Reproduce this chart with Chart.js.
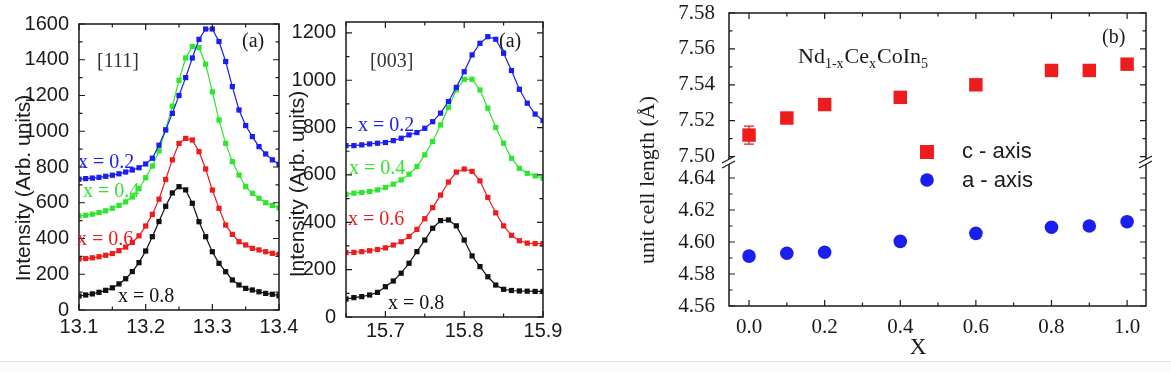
<!DOCTYPE html>
<html lang="en">
<head>
<meta charset="UTF-8">
<title>Nd1-xCexCoIn5 - peaks and unit cell length</title>
<script src="https://cdn.jsdelivr.net/npm/chart.js"></script>
<style>
  html, body { margin: 0; padding: 0; background: #fff; }
  .wrap { position: relative; width: 1171px; height: 372px; overflow: hidden; }
  .wrap canvas { position: absolute; left: 0; top: 0; }
  .foot { position: absolute; left: 0; top: 361px; width: 1171px; height: 11px; background: #fafafa; border-top: 1px solid #e6e6e6; }
</style>
</head>
<body>
<div class="wrap">
  <div class="foot"></div>
  <canvas id="c111" width="1171" height="372"></canvas>
  <canvas id="c003" width="1171" height="372"></canvas>
  <canvas id="cLat" width="1171" height="372"></canvas>
</div>
<script>
// ---- panel (a), [111] peak ----
const x111 = [13.10, 13.11, 13.12, 13.13, 13.14, 13.15, 13.16, 13.17, 13.18, 13.19, 13.20,
              13.21, 13.22, 13.23, 13.24, 13.25, 13.26, 13.27, 13.28, 13.29, 13.30,
              13.31, 13.32, 13.33, 13.34, 13.35, 13.36, 13.37, 13.38, 13.39, 13.40];
const i111_02 = [732, 735, 738, 742, 748, 754, 762, 772, 783, 796, 817, 849, 922, 1007, 1100, 1200,
                 1300, 1410, 1514, 1572, 1572, 1502, 1390, 1250, 1119, 1032, 970, 914, 873, 840, 815];
const i111_04 = [526, 530, 536, 545, 555, 569, 585, 605, 632, 680, 740, 805, 890, 1010, 1140, 1285,
                 1410, 1474, 1468, 1375, 1220, 1063, 932, 830, 755, 690, 653, 625, 600, 585, 572];
const i111_06 = [285, 288, 292, 298, 306, 316, 332, 352, 378, 415, 470, 535, 620, 730, 840, 932,
                 960, 951, 886, 789, 671, 569, 475, 423, 382, 364, 345, 336, 326, 317, 311];
const i111_08 = [78, 84, 90, 99, 110, 124, 146, 175, 215, 265, 330, 410, 495, 580, 655, 690,
                 672, 597, 494, 410, 326, 261, 214, 168, 140, 121, 112, 102, 93, 88, 80];
const ticks111X = [13.1, 13.2, 13.3, 13.4];
const ticks111Y = [0, 200, 400, 600, 800, 1000, 1200, 1400, 1600];

// ---- panel (a), [003] peak ----
const x003 = [15.65, 15.66, 15.67, 15.68, 15.69, 15.70, 15.71, 15.72, 15.73, 15.74, 15.75, 15.76, 15.77,
              15.78, 15.79, 15.80, 15.81, 15.82, 15.83, 15.84, 15.85, 15.86, 15.87, 15.88, 15.89, 15.90];
const i003_02 = [724, 724, 727, 731, 734, 737, 745, 755, 769, 779, 797, 825, 861,
                 910, 970, 1036, 1107, 1156, 1184, 1173, 1114, 1041, 962, 903, 857, 830];
const i003_04 = [518, 523, 526, 530, 537, 547, 561, 579, 603, 635, 685, 741, 811,
                 885, 960, 1004, 1004, 959, 882, 800, 734, 670, 628, 607, 596, 586];
const i003_06 = [272, 273, 276, 280, 285, 292, 304, 318, 340, 370, 415, 462, 515,
                 570, 612, 625, 615, 575, 505, 440, 385, 345, 322, 312, 310, 310];
const i003_08 = [76, 82, 86, 93, 104, 128, 152, 185, 227, 276, 325, 375, 407,
                 410, 385, 325, 258, 213, 170, 135, 117, 112, 110, 109, 108, 108];
const ticks003X = [15.7, 15.8, 15.9];
const ticks003Y = [0, 200, 400, 600, 800, 1000, 1200];

// ---- panel (b), lattice constants ----
const xLat = [0.0, 0.1, 0.2, 0.4, 0.6, 0.8, 0.9, 1.0];
const cAxis = [7.512, 7.5215, 7.529, 7.533, 7.540, 7.548, 7.548, 7.5515];
const cErr = [0.005, 0, 0, 0, 0, 0, 0, 0];
const aAxis = [4.5912, 4.593, 4.5936, 4.6004, 4.6054, 4.6092, 4.610, 4.6127];
const ticksLatX = [0.0, 0.2, 0.4, 0.6, 0.8, 1.0];
const ticksC = [7.50, 7.52, 7.54, 7.56, 7.58];
const ticksA = [4.56, 4.58, 4.60, 4.62, 4.64];

const SANS = '"Liberation Sans", Arial, sans-serif';
const SERIF = '"Liberation Serif", "Times New Roman", serif';
const INK = '#1a1a1a';
const BLUE = '#1a1ff0', GREEN = '#2ee62e', RED = '#ee1c1c', BLACK = '#111111';

// helpers for the hand-drawn parts (frame, inward ticks, labels)
function frame(ctx, a) {
  ctx.save();
  ctx.strokeStyle = INK;
  ctx.lineWidth = 1.5;
  ctx.strokeRect(a.left, a.top, a.right - a.left, a.bottom - a.top);
  ctx.restore();
}

function isMajor(v, major) {
  const r = v / major;
  return Math.abs(r - Math.round(r)) < 1e-6;
}

function ticksX(ctx, a, sc, from, to, step, major) {
  const n = Math.round((to - from) / step);
  ctx.save();
  ctx.strokeStyle = INK;
  ctx.lineWidth = 1.2;
  ctx.beginPath();
  for (let i = 0; i <= n; i++) {
    const v = from + i * step;
    const len = isMajor(v, major) ? 6 : 3.5;
    const p = sc.getPixelForValue(v);
    ctx.moveTo(p, a.bottom); ctx.lineTo(p, a.bottom - len);
    ctx.moveTo(p, a.top); ctx.lineTo(p, a.top + len);
  }
  ctx.stroke();
  ctx.restore();
}

function ticksY(ctx, a, sc, from, to, step, major) {
  const n = Math.round((to - from) / step);
  ctx.save();
  ctx.strokeStyle = INK;
  ctx.lineWidth = 1.2;
  ctx.beginPath();
  for (let i = 0; i <= n; i++) {
    const v = from + i * step;
    const len = isMajor(v, major) ? 6 : 3.5;
    const p = sc.getPixelForValue(v);
    ctx.moveTo(a.left, p); ctx.lineTo(a.left + len, p);
    ctx.moveTo(a.right, p); ctx.lineTo(a.right - len, p);
  }
  ctx.stroke();
  ctx.restore();
}

function text(ctx, s, x, y, font, color, align) {
  ctx.save();
  ctx.font = font;
  ctx.fillStyle = color;
  ctx.textAlign = align || 'left';
  ctx.textBaseline = 'alphabetic';
  ctx.fillText(s, x, y);
  ctx.restore();
}

function vtext(ctx, s, cx, cy, font, color) {
  ctx.save();
  ctx.translate(cx, cy);
  ctx.rotate(-Math.PI / 2);
  ctx.font = font;
  ctx.fillStyle = color;
  ctx.textAlign = 'center';
  ctx.textBaseline = 'middle';
  ctx.fillText(s, 0, 0);
  ctx.restore();
}

function breakMark(ctx, x, y) {
  ctx.save();
  ctx.fillStyle = '#fff';
  ctx.beginPath();
  ctx.moveTo(x - 7, y + 1); ctx.lineTo(x + 6, y - 6);
  ctx.lineTo(x + 6, y - 1); ctx.lineTo(x - 7, y + 6);
  ctx.closePath();
  ctx.fill();
  ctx.strokeStyle = INK;
  ctx.lineWidth = 1.3;
  ctx.beginPath();
  ctx.moveTo(x - 7, y + 1); ctx.lineTo(x + 6, y - 6);
  ctx.moveTo(x - 7, y + 6); ctx.lineTo(x + 6, y - 1);
  ctx.stroke();
  ctx.restore();
}

function peakSet(label, xs, ys, color) {
  return {
    label: label,
    data: xs.map((x, i) => ({ x: x, y: ys[i] })),
    borderColor: color,
    backgroundColor: color,
    borderWidth: 1.2,
    pointStyle: 'rect',
    pointRadius: 3.7,
    pointBorderWidth: 0,
    tension: 0
  };
}

function fixedTicks(list) {
  return function (scale) { scale.ticks = list.map(v => ({ value: v })); };
}

const tickFontSans = { family: SANS, size: 20 };
const tickFontSerif = { family: SERIF, size: 21 };

// ---- [111] ----
new Chart(document.getElementById('c111'), {
  type: 'line',
  data: {
    datasets: [
      peakSet('x = 0.2', x111, i111_02, BLUE),
      peakSet('x = 0.4', x111, i111_04, GREEN),
      peakSet('x = 0.6', x111, i111_06, RED),
      peakSet('x = 0.8', x111, i111_08, BLACK)
    ]
  },
  options: {
    responsive: false,
    animation: false,
    devicePixelRatio: 1,
    layout: { padding: { left: 0, right: 892, top: 24, bottom: 0 } },
    plugins: { legend: { display: false }, tooltip: { enabled: false } },
    scales: {
      x: {
        type: 'linear', min: 13.1, max: 13.4,
        grid: { display: false }, border: { display: false },
        afterBuildTicks: fixedTicks(ticks111X),
        afterFit: s => { s.height = 62; s.paddingLeft = 0; s.paddingRight = 0; },
        ticks: { font: tickFontSans, color: INK, padding: -3, maxRotation: 0, autoSkip: false,
                 callback: v => v.toFixed(1) }
      },
      y: {
        type: 'linear', min: 0, max: 1600,
        grid: { display: false }, border: { display: false },
        afterBuildTicks: fixedTicks(ticks111Y),
        afterFit: s => { s.width = 79; s.paddingTop = 0; s.paddingBottom = 0; },
        ticks: { font: tickFontSans, color: INK, padding: 2, autoSkip: false,
                 callback: v => String(v) }
      }
    }
  },
  plugins: [{
    id: 'deco111',
    afterDraw(chart) {
      const { ctx, chartArea: a, scales } = chart;
      frame(ctx, a);
      ticksX(ctx, a, scales.x, 13.1, 13.4, 0.05, 0.1);
      ticksY(ctx, a, scales.y, 0, 1600, 100, 200);
      text(ctx, '[111]', 97, 67, '20px ' + SERIF, '#333');
      text(ctx, '(a)', 242, 47, '20px ' + SERIF, INK);
      text(ctx, 'x = 0.2', 78, 168, '20px ' + SERIF, BLUE);
      text(ctx, 'x = 0.4', 83, 197, '20px ' + SERIF, GREEN);
      text(ctx, 'x = 0.6', 77, 245, '20px ' + SERIF, RED);
      text(ctx, 'x = 0.8', 118, 302, '20px ' + SERIF, BLACK);
      vtext(ctx, 'Intensity (Arb. units)', 24, 188, '21px ' + SANS, INK);
    }
  }]
});

// ---- [003] ----
new Chart(document.getElementById('c003'), {
  type: 'line',
  data: {
    datasets: [
      peakSet('x = 0.2', x003, i003_02, BLUE),
      peakSet('x = 0.4', x003, i003_04, GREEN),
      peakSet('x = 0.6', x003, i003_06, RED),
      peakSet('x = 0.8', x003, i003_08, BLACK)
    ]
  },
  options: {
    responsive: false,
    animation: false,
    devicePixelRatio: 1,
    layout: { padding: { left: 290, right: 628, top: 22, bottom: 0 } },
    plugins: { legend: { display: false }, tooltip: { enabled: false } },
    scales: {
      x: {
        type: 'linear', min: 15.65, max: 15.9,
        grid: { display: false }, border: { display: false },
        afterBuildTicks: fixedTicks(ticks003X),
        afterFit: s => { s.height = 55; s.paddingLeft = 0; s.paddingRight = 0; },
        ticks: { font: tickFontSans, color: INK, padding: -6, maxRotation: 0, autoSkip: false,
                 callback: v => v.toFixed(1) }
      },
      y: {
        type: 'linear', min: 0, max: 1246,
        grid: { display: false }, border: { display: false },
        afterBuildTicks: fixedTicks(ticks003Y),
        afterFit: s => { s.width = 56; s.paddingTop = 0; s.paddingBottom = 0; },
        ticks: { font: tickFontSans, color: INK, padding: 2, autoSkip: false,
                 callback: v => String(v) }
      }
    }
  },
  plugins: [{
    id: 'deco003',
    afterDraw(chart) {
      const { ctx, chartArea: a, scales } = chart;
      frame(ctx, a);
      ticksX(ctx, a, scales.x, 15.65, 15.9, 0.05, 0.1);
      ticksY(ctx, a, scales.y, 0, 1200, 100, 200);
      text(ctx, '[003]', 370, 67, '20px ' + SERIF, '#333');
      text(ctx, '(a)', 499, 47, '20px ' + SERIF, INK);
      text(ctx, 'x = 0.2', 358, 131, '20px ' + SERIF, BLUE);
      text(ctx, 'x = 0.4', 349, 174, '20px ' + SERIF, GREEN);
      text(ctx, 'x = 0.6', 348, 225, '20px ' + SERIF, RED);
      text(ctx, 'x = 0.8', 388, 309, '20px ' + SERIF, BLACK);
      vtext(ctx, 'Intensity (Arb. units)', 298, 184, '21px ' + SANS, INK);
    }
  }]
});

// ---- lattice constants, broken y axis made of two stacked scales ----
new Chart(document.getElementById('cLat'), {
  type: 'scatter',
  data: {
    datasets: [
      {
        label: 'c - axis', yAxisID: 'yC',
        data: xLat.map((x, i) => ({ x: x, y: cAxis[i] })),
        pointStyle: 'rect', pointRadius: 9.5, pointBorderWidth: 0,
        backgroundColor: RED, borderColor: RED
      },
      {
        label: 'a - axis', yAxisID: 'yA',
        data: xLat.map((x, i) => ({ x: x, y: aAxis[i] })),
        pointStyle: 'circle', pointRadius: 6.8, pointBorderWidth: 0,
        backgroundColor: BLUE, borderColor: BLUE
      }
    ]
  },
  options: {
    responsive: false,
    animation: false,
    devicePixelRatio: 1,
    layout: { padding: { left: 560, right: 25, top: 13, bottom: 0 } },
    plugins: { legend: { display: false }, tooltip: { enabled: false } },
    scales: {
      x: {
        type: 'linear', min: -0.053, max: 1.05,
        grid: { display: false }, border: { display: false },
        afterBuildTicks: fixedTicks(ticksLatX),
        afterFit: s => { s.height = 66; s.paddingLeft = 0; s.paddingRight = 0; },
        ticks: { font: tickFontSerif, color: INK, padding: 1, maxRotation: 0, autoSkip: false,
                 callback: v => v.toFixed(1) }
      },
      yA: {
        type: 'linear', position: 'left', stack: 'len', stackWeight: 144,
        min: 4.56, max: 4.65,
        grid: { display: false }, border: { display: false },
        afterBuildTicks: fixedTicks(ticksA),
        afterFit: s => { s.width = 169; s.paddingTop = 0; s.paddingBottom = 0; },
        ticks: { font: tickFontSerif, color: INK, padding: 6, autoSkip: false,
                 callback: v => v.toFixed(2) }
      },
      yC: {
        type: 'linear', position: 'left', stack: 'len', stackWeight: 149,
        min: 7.497, max: 7.58,
        grid: { display: false }, border: { display: false },
        afterBuildTicks: fixedTicks(ticksC),
        afterFit: s => { s.width = 169; s.paddingTop = 0; s.paddingBottom = 0; },
        ticks: { font: tickFontSerif, color: INK, padding: 6, autoSkip: false,
                 callback: v => v.toFixed(2) }
      }
    }
  },
  plugins: [{
    id: 'decoLat',
    beforeDatasetsDraw(chart) {
      const { ctx, scales } = chart;
      ctx.save();
      ctx.strokeStyle = RED;
      ctx.lineWidth = 1.3;
      ctx.beginPath();
      xLat.forEach((x, i) => {
        if (!cErr[i]) return;
        const px = scales.x.getPixelForValue(x);
        const top = scales.yC.getPixelForValue(cAxis[i] + cErr[i]);
        const bot = scales.yC.getPixelForValue(cAxis[i] - cErr[i]);
        ctx.moveTo(px, top); ctx.lineTo(px, bot);
        ctx.moveTo(px - 5, top); ctx.lineTo(px + 5, top);
        ctx.moveTo(px - 5, bot); ctx.lineTo(px + 5, bot);
      });
      ctx.stroke();
      ctx.restore();
    },
    afterDraw(chart) {
      const { ctx, chartArea: a, scales } = chart;
      frame(ctx, a);
      ticksX(ctx, a, scales.x, 0, 1.0, 0.1, 0.2);
      ticksY(ctx, a, scales.yC, 7.50, 7.58, 0.01, 0.02);
      ticksY(ctx, a, scales.yA, 4.56, 4.64, 0.01, 0.02);
      const yb = scales.yC.bottom;
      breakMark(ctx, a.left, yb);
      breakMark(ctx, a.right, yb);

      // compound label with subscripts
      ctx.save();
      ctx.fillStyle = INK;
      let x = 798;
      const parts = [['Nd', 0], ['1-x', 1], ['Ce', 0], ['x', 1], ['CoIn', 0], ['5', 1]];
      parts.forEach(p => {
        ctx.font = (p[1] ? '14px ' : '22px ') + SERIF;
        ctx.fillText(p[0], x, p[1] ? 68 : 63);
        x += ctx.measureText(p[0]).width + (p[1] ? 1 : 0);
      });
      ctx.restore();

      text(ctx, '(b)', 1102, 43, '20px ' + SERIF, INK);

      // legend
      ctx.save();
      ctx.fillStyle = RED;
      ctx.fillRect(920, 145, 14, 14);
      ctx.fillStyle = BLUE;
      ctx.beginPath();
      ctx.arc(927, 180, 6.8, 0, Math.PI * 2);
      ctx.fill();
      ctx.restore();
      text(ctx, 'c - axis', 962, 158, '22px ' + SANS, INK);
      text(ctx, 'a - axis', 962, 187, '22px ' + SANS, INK);

      vtext(ctx, 'unit cell length (\u00c5)', 648, 180, '22px ' + SERIF, INK);
      text(ctx, 'X', 918, 354, '23px ' + SERIF, INK, 'center');
    }
  }]
});
</script>
</body>
</html>
